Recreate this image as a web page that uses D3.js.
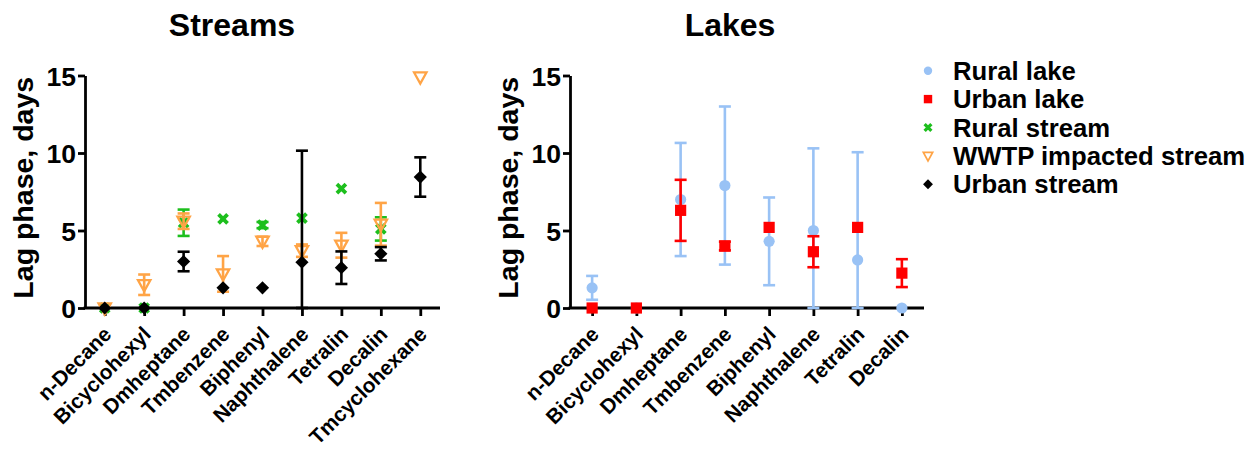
<!DOCTYPE html>
<html>
<head>
<meta charset="utf-8">
<script src="https://cdn.jsdelivr.net/npm/d3@7"></script>
<style>
  html, body { margin: 0; padding: 0; background: #fff; }
  svg { display: block; font-family: "Liberation Sans", Arial, sans-serif; font-weight: bold; }
</style>
</head>
<body>
<svg id="chart" width="1251" height="451"></svg>
<script>
// ---------- DATA ----------
const streamCats = ["n-Decane","Bicyclohexyl","Dmheptane","Tmbenzene","Biphenyl","Naphthalene","Tetralin","Decalin","Tmcyclohexane"];
const lakeCats   = ["n-Decane","Bicyclohexyl","Dmheptane","Tmbenzene","Biphenyl","Naphthalene","Tetralin","Decalin"];
const yTicks = [0, 5, 10, 15];

const ruralStreamMean = [0, 0, 5.5, 5.75, 5.35, 5.8, 7.7, 5.1, null];
const ruralStreamErr  = [0, 0, 0.85, 0, 0.2, 0, 0, 0.75, null];
const wwtpMean = [0, 1.5, 5.6, 2.2, 4.3, 3.7, 4.05, 5.4, 14.9];
const wwtpErr  = [0, 0.66, 0.5, 1.15, 0.3, 0.4, 0.8, 1.38, 0];
const urbanStreamMean = [0, 0, 3.0, 1.3, 1.3, 2.95, 2.6, 3.5, 8.45];
const urbanStreamErr  = [0, 0, 0.63, 0, 0, 7.2, 1.05, 0.43, 1.27];

const ruralLakeMean = [1.3, 0, 7.0, 7.9, 4.3, 5.0, 3.1, 0];
const ruralLakeErr  = [0.77, 0, 3.65, 5.1, 2.83, 5.3, 6.95, 0];
const urbanLakeMean = [0, 0, 6.3, 4.0, 5.2, 3.63, 5.2, 2.25];
const urbanLakeErr  = [0, 0, 1.97, 0.28, 0, 1.0, 0, 0.9];

const legendLabels = ["Rural lake","Urban lake","Rural stream","WWTP impacted stream","Urban stream"];

// ---------- STYLE ----------
const COL = { blue: "#99c2f5", red: "#ff0000", green: "#1dbf1d", orange: "#ffa446", black: "#000000" };
const svg = d3.select("#chart");

function drawMarker(g, type, color, s) {
  if (type === "circle") {
    g.append("circle").attr("r", 5.6 * s).attr("fill", color);
  } else if (type === "square") {
    g.append("rect").attr("x", -5.6 * s).attr("y", -5.6 * s).attr("width", 11.2 * s).attr("height", 11.2 * s).attr("fill", color);
  } else if (type === "diamond") {
    const a = 6.6 * s;
    g.append("path").attr("d", `M0,${-a}L${a},0L0,${a}L${-a},0Z`).attr("fill", color);
  } else if (type === "x") {
    const a = 4.5 * s;
    g.append("path").attr("d", `M${-a},${-a}L${a},${a}M${-a},${a}L${a},${-a}`)
      .attr("stroke", color).attr("stroke-width", 3.8 * Math.max(s, 0.85)).attr("fill", "none");
  } else if (type === "tri") {
    const w = 6.2 * s, t = 4.6 * s, b = 6.6 * s;
    g.append("path").attr("d", `M${-w},${-t}L${w},${-t}L0,${b}Z`)
      .attr("stroke", color).attr("stroke-width", 2.3 * s).attr("fill", "none").attr("stroke-linejoin", "miter");
  }
}

function panel(cfg) {
  const x = d3.scalePoint().domain(cfg.cats).range([cfg.x0, cfg.x1]).padding(0.5);
  const y = d3.scaleLinear().domain([0, 15]).range([308, 75.5]);
  const g = svg.append("g");

  g.append("text").attr("x", cfg.titleX).attr("y", 36).attr("text-anchor", "middle")
    .attr("font-size", 32).text(cfg.title);

  g.append("text").attr("transform", `translate(${cfg.ylabX},${y(7.5) - 4}) rotate(-90)`)
    .attr("text-anchor", "middle").attr("font-size", 28.5).text("Lag phase, days");

  const ya = g.append("g").attr("transform", `translate(${cfg.x0},0)`)
    .call(d3.axisLeft(y).tickValues(yTicks).tickSize(7).tickPadding(2).tickSizeOuter(0));
  ya.select(".domain").attr("stroke-width", 2.8);
  ya.selectAll(".tick line").attr("stroke-width", 2.8);
  ya.selectAll(".tick text").attr("font-size", 26.5).attr("font-family", "Liberation Sans, Arial, sans-serif")
    .attr("font-weight", "bold").attr("fill", "#000").attr("dy", "0.36em");

  const xa = g.append("g").attr("transform", `translate(0,${y(0)})`)
    .call(d3.axisBottom(x).tickSize(8).tickSizeOuter(0));
  xa.select(".domain").attr("stroke-width", 2.8).attr("d", `M${cfg.x0 - 1.4},0H${cfg.x1}`);
  xa.selectAll(".tick line").attr("stroke-width", 2.8);
  xa.selectAll(".tick text").remove();
  g.selectAll(".xlab").data(cfg.cats).join("text").attr("class", "xlab")
    .attr("transform", d => `translate(${x(d) + 8},${y(0) + 27.5}) rotate(-45)`)
    .attr("text-anchor", "end").attr("font-size", 20.8).text(d => d);

  cfg.series.forEach(s => {
    const sg = g.append("g");
    cfg.cats.forEach((c, i) => {
      const m = s.mean[i];
      if (m === null || m === undefined) return;
      const e = s.err[i] || 0;
      const cx = x(c);
      if (e > 0) {
        const lo = Math.max(0, m - e), hi = m + e;
        sg.append("line").attr("x1", cx).attr("x2", cx).attr("y1", y(lo)).attr("y2", y(hi))
          .attr("stroke", s.color).attr("stroke-width", 2.6);
        [lo, hi].forEach(v => sg.append("line").attr("x1", cx - 6).attr("x2", cx + 6)
          .attr("y1", y(v)).attr("y2", y(v)).attr("stroke", s.color).attr("stroke-width", 2.6));
      }
    });
    cfg.cats.forEach((c, i) => {
      const m = s.mean[i];
      if (m === null || m === undefined) return;
      const mg = sg.append("g").attr("transform", `translate(${x(c)},${y(m)})`);
      drawMarker(mg, s.type, s.color, 1);
    });
  });
}

panel({
  title: "Streams", titleX: 232, ylabX: 33, x0: 85, x1: 440, cats: streamCats,
  series: [
    { mean: ruralStreamMean, err: ruralStreamErr, color: COL.green, type: "x" },
    { mean: wwtpMean, err: wwtpErr, color: COL.orange, type: "tri" },
    { mean: urbanStreamMean, err: urbanStreamErr, color: COL.black, type: "diamond" }
  ]
});

panel({
  title: "Lakes", titleX: 730, ylabX: 518, x0: 570, x1: 924, cats: lakeCats,
  series: [
    { mean: ruralLakeMean, err: ruralLakeErr, color: COL.blue, type: "circle" },
    { mean: urbanLakeMean, err: urbanLakeErr, color: COL.red, type: "square" }
  ]
});

const legTypes = [["circle", COL.blue], ["square", COL.red], ["x", COL.green], ["tri", COL.orange], ["diamond", COL.black]];
const lg = svg.append("g");
legendLabels.forEach((t, i) => {
  const cy = 70.7 + i * 28.4;
  const mg = lg.append("g").attr("transform", `translate(928,${cy})`);
  drawMarker(mg, legTypes[i][0], legTypes[i][1], 0.75);
  lg.append("text").attr("x", 953).attr("y", cy + 9).attr("font-size", 25.7).text(t);
});
</script>
</body>
</html>
